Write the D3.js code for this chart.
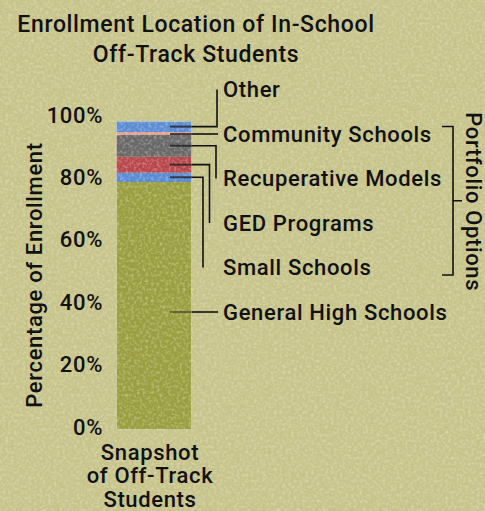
<!DOCTYPE html>
<html>
<head>
<meta charset="utf-8">
<script src="https://cdn.jsdelivr.net/npm/d3@7"></script>
<style>
  html, body { margin: 0; padding: 0; background: #c6c38b; }
  svg { display: block; }
  text { font-family: Roboto, sans-serif; font-weight: 500; fill: #111; letter-spacing: 0.65px; }
</style>
</head>
<body>
<svg id="chart"></svg>
<script>
// data, bottom to top of the stack
const categories = ['General High Schools', 'Small Schools', 'GED Programs', 'Recuperative Models', 'Community Schools', 'Other']
const values = [79.5, 3.0, 5.1, 7.0, 0.9, 3.5]
const colors = ['#9a9e3f', '#5b8bd2', '#b8474b', '#686868', '#e2a08f', '#5b8bd2']
const yTicks = [0, 20, 40, 60, 80, 100]
const barName = ['Snapshot', 'of Off-Track', 'Students']
const portfolio = ['Small Schools', 'GED Programs', 'Recuperative Models', 'Community Schools']

const width = 485
const height = 511

const svg = d3.select('#chart')
  .attr('width', width)
  .attr('height', height)

// speckled paper background
const defs = svg.append('defs')
const f = defs.append('filter').attr('id', 'speckle').attr('x', 0).attr('y', 0).attr('width', '100%').attr('height', '100%')
f.append('feTurbulence').attr('type', 'fractalNoise').attr('baseFrequency', 0.35).attr('numOctaves', 2).attr('seed', 3).attr('result', 'n')
f.append('feColorMatrix').attr('in', 'n').attr('type', 'matrix')
  .attr('values', '0 0 0 0 1  0 0 0 0 1  0 0 0 0 1  0 0 0 -2.2 1.25')
  .attr('result', 'm')
f.append('feComposite').attr('in', 'm').attr('in2', 'SourceGraphic').attr('operator', 'in')

svg.append('rect').attr('width', width).attr('height', height).attr('fill', '#c7c48b')
svg.append('rect').attr('width', width).attr('height', height).attr('fill', '#fff')
  .attr('filter', 'url(#speckle)').attr('opacity', 0.3)

// title
svg.append('text')
  .attr('text-anchor', 'middle')
  .style('font-size', '23px')
  .selectAll('tspan')
  .data(['Enrollment Location of In-School', 'Off-Track Students'])
  .enter().append('tspan')
  .attr('x', 196)
  .attr('y', (d, i) => 32 + i * 30)
  .text(d => d)

const y = d3.scaleLinear().domain([0, 100]).range([430, 118])
const x = d3.scaleBand().domain([barName.join(' ')]).range([116, 192]).padding(0)

// stack
let acc = 0
const segs = values.map((v, i) => {
  const s = { name: categories[i], value: v, y0: acc, y1: acc + v, color: colors[i] }
  acc += v
  return s
})

const bar = svg.append('g')
bar.selectAll('rect')
  .data(segs)
  .enter().append('rect')
  .attr('x', x(barName.join(' ')))
  .attr('width', x.bandwidth())
  .attr('y', d => y(d.y1))
  .attr('height', d => y(d.y0) - y(d.y1))
  .attr('fill', d => d.color)

// thin light rim round the bar
bar.append('rect')
  .attr('x', x(barName.join(' ')) + 0.5)
  .attr('width', x.bandwidth() - 1)
  .attr('y', y(acc) + 0.5)
  .attr('height', y(0) - y(acc) - 1)
  .attr('fill', 'none')
  .attr('stroke', '#e8e6c8')
  .attr('stroke-opacity', 0.6)
  .attr('stroke-width', 1)

// light flecks on the bar
bar.append('rect')
  .attr('x', x(barName.join(' ')))
  .attr('width', x.bandwidth())
  .attr('y', y(acc))
  .attr('height', y(0) - y(acc))
  .attr('fill', '#fff')
  .attr('filter', 'url(#speckle)')
  .attr('opacity', 0.35)

// y axis
const axis = svg.append('g')
  .attr('transform', 'translate(106,0)')
  .call(d3.axisLeft(y).tickValues(yTicks).tickSize(0).tickPadding(3).tickFormat(d => d + '%'))
axis.select('.domain').remove()
axis.selectAll('text')
  .attr('y', -3)
  .style('font-size', '22px')
  .style('font-family', 'Roboto, sans-serif')
  .attr('fill', '#111')

svg.append('text')
  .attr('transform', 'translate(42,275) rotate(-90)')
  .attr('text-anchor', 'middle')
  .style('font-size', '22px')
  .text('Percentage of Enrollment')

// category label under the bar
svg.append('text')
  .attr('text-anchor', 'middle')
  .style('font-size', '22px')
  .selectAll('tspan')
  .data(barName)
  .enter().append('tspan')
  .attr('x', x(barName.join(' ')) + x.bandwidth() / 2 - 4)
  .attr('y', (d, i) => 460 + i * 23.3)
  .text(d => d)

// labels and leaders
const labelX = 223
const barRight = x(barName.join(' ')) + x.bandwidth()
const innerStart = barRight - 22
const order = segs.slice().reverse() // top to bottom
order.forEach((d, i) => {
  d.labelY = 97 + i * 44.5
  d.labelMid = d.labelY - 7.5
})
let down = 0
segs.forEach(d => {
  const top = y(d.y1)
  const bot = y(d.y0)
  if (d.labelMid >= top - 1 && d.labelMid <= bot + 1) {
    d.path = [[barRight, d.labelMid], [labelX - 5, d.labelMid]]
    d.ly = d.labelMid
  } else {
    const mid = (top + bot) / 2
    let ex
    if (d.labelMid > mid) { ex = 203 + down * 6.5; down++ } else { ex = 217 }
    d.path = [[barRight, mid], [ex, mid], [ex, d.labelMid]]
    d.ly = mid
  }
})

const leaders = svg.append('g')
leaders.selectAll('line.inner')
  .data(segs)
  .enter().append('line')
  .attr('class', 'inner')
  .attr('x1', innerStart).attr('x2', barRight)
  .attr('y1', d => d.ly).attr('y2', d => d.ly)
  .attr('stroke', '#1a1a1a')
  .attr('stroke-opacity', d => d.name === 'General High Schools' ? 0.45 : 0.75)
  .attr('stroke-width', 2)

leaders.selectAll('path')
  .data(segs)
  .enter().append('path')
  .attr('d', d => d3.line()(d.path))
  .attr('fill', 'none')
  .attr('stroke', '#111')
  .attr('stroke-width', 1.6)

svg.append('g').selectAll('text')
  .data(segs)
  .enter().append('text')
  .attr('x', labelX)
  .attr('y', d => d.labelY)
  .style('font-size', '22px')
  .text(d => d.name)

// portfolio bracket
const pf = segs.filter(d => portfolio.includes(d.name))
const bTop = d3.min(pf, d => d.labelY) - 15
const bBot = d3.max(pf, d => d.labelY)
const bMid = (bTop + bBot) / 2
const bx = 453
svg.append('path')
  .attr('d', `M${bx - 11},${bTop}H${bx}V${bBot}H${bx - 11}M${bx},${bMid}H${bx + 9}`)
  .attr('fill', 'none')
  .attr('stroke', '#111')
  .attr('stroke-width', 1.6)

svg.append('text')
  .attr('transform', `translate(466,${bMid + 1}) rotate(90)`)
  .attr('text-anchor', 'middle')
  .style('font-size', '22px')
  .text('Portfolio Options')
</script>
</body>
</html>
